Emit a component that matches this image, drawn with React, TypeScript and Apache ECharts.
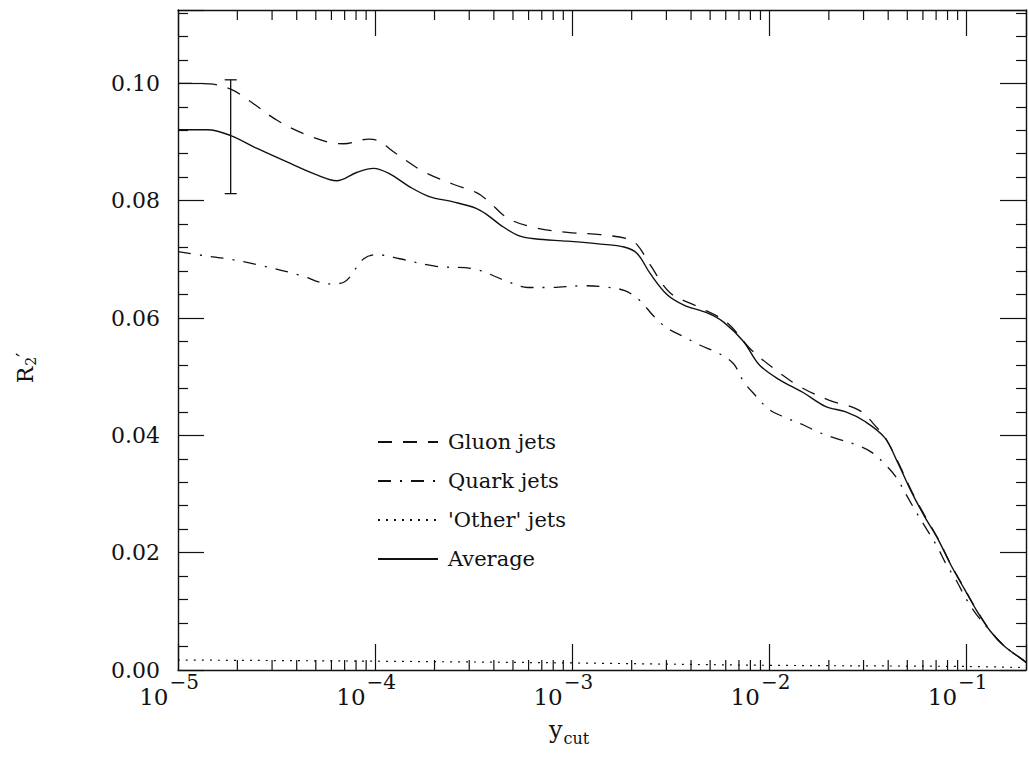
import React, { useEffect, useRef } from "react";
import * as echarts from "echarts";

// ---- Data ----
const seriesNames = ["Gluon jets", "Quark jets", "'Other' jets", "Average"];

const gluonX = [1e-5, 1.44e-5, 1.85e-5, 2.33e-5, 3.18e-5, 4.51e-5, 6.17e-5, 6.93e-5, 9.27e-5, 1.02e-4, 1.28e-4, 1.75e-4, 2.49e-4, 3.25e-4, 3.73e-4, 4.71e-4, 6.44e-4, 9.45e-4, 1.39e-3, 1.9e-3, 2.13e-3, 2.48e-3, 3.13e-3, 4.28e-3, 6.05e-3, 7.91e-3, 1.04e-2, 1.41e-2, 2.0e-2, 2.84e-2, 3.58e-2, 3.84e-2, 4.48e-2, 5.24e-2, 6.11e-2, 7.13e-2, 8.32e-2, 9.7e-2, 0.113, 0.132, 0.155, 0.195, 0.2];
const gluonY = [0.1, 0.0999, 0.099, 0.0969, 0.0937, 0.0912, 0.0898, 0.0897, 0.0905, 0.0903, 0.088, 0.085, 0.0828, 0.0814, 0.08, 0.077, 0.0754, 0.0746, 0.0742, 0.0735, 0.0725, 0.0691, 0.0643, 0.062, 0.0593, 0.0549, 0.0515, 0.0484, 0.046, 0.0443, 0.041, 0.0398, 0.0355, 0.0306, 0.0264, 0.0225, 0.018, 0.014, 0.0101, 0.0067, 0.0041, 0.0016, 0.0013];

const quarkX = [1e-5, 1.38e-5, 1.85e-5, 2.67e-5, 4.16e-5, 5.89e-5, 6.93e-5, 8.75e-5, 1.02e-4, 1.33e-4, 2.04e-4, 3.13e-4, 4.71e-4, 5.94e-4, 7.48e-4, 1.15e-3, 1.45e-3, 1.83e-3, 2.18e-3, 2.59e-3, 3.02e-3, 3.68e-3, 4.42e-3, 5.58e-3, 6.57e-3, 7.38e-3, 8.38e-3, 9.97e-3, 1.19e-2, 1.48e-2, 1.78e-2, 2.17e-2, 2.74e-2, 3.3e-2, 3.92e-2, 4.4e-2, 5.01e-2, 5.62e-2, 6.32e-2, 7.1e-2, 7.85e-2, 8.85e-2, 9.91e-2, 0.112, 0.132, 0.155, 0.195, 0.2];
const quarkY = [0.0713, 0.0706, 0.07, 0.0689, 0.0673, 0.0658, 0.0661, 0.0701, 0.0708, 0.0701, 0.0688, 0.0684, 0.0662, 0.0652, 0.0652, 0.0655, 0.0653, 0.0647, 0.0631, 0.0603, 0.0583, 0.0568, 0.0554, 0.0539, 0.0522, 0.0492, 0.047, 0.0444, 0.0431, 0.0418, 0.0405, 0.0395, 0.0384, 0.0371, 0.0348, 0.0328, 0.0295, 0.0266, 0.0238, 0.021, 0.0181, 0.0153, 0.0122, 0.0095, 0.0066, 0.0041, 0.0016, 0.0013];

const otherX = [1e-5, 1e-4, 1e-3, 1e-2, 1e-1, 0.2];
const otherY = [0.0017, 0.0015, 0.0012, 0.0008, 0.0006, 0.0004];

const averageX = [1e-5, 1.41e-5, 1.85e-5, 2.52e-5, 3.57e-5, 5.06e-5, 6.38e-5, 8.05e-5, 9.81e-5, 1.18e-4, 1.49e-4, 1.88e-4, 2.49e-4, 3.25e-4, 3.73e-4, 4.34e-4, 5.29e-4, 6.44e-4, 9.45e-4, 1.39e-3, 1.83e-3, 2.13e-3, 2.48e-3, 3.02e-3, 3.68e-3, 4.8e-3, 5.85e-3, 7.38e-3, 8.89e-3, 1.12e-2, 1.48e-2, 1.93e-2, 2.44e-2, 3.04e-2, 3.84e-2, 4.48e-2, 5.24e-2, 6.11e-2, 7.13e-2, 8.32e-2, 9.7e-2, 0.113, 0.132, 0.155, 0.195, 0.2];
const averageY = [0.0921, 0.0921, 0.0911, 0.0889, 0.0866, 0.0844, 0.0834, 0.0848, 0.0855, 0.0846, 0.0824, 0.0807, 0.0798, 0.0787, 0.0775, 0.0758, 0.0741, 0.0735, 0.0731, 0.0726, 0.0721, 0.071, 0.0676, 0.064, 0.0622, 0.0609, 0.0593, 0.056, 0.052, 0.0495, 0.0473, 0.0449, 0.044, 0.0424, 0.0396, 0.0353, 0.0304, 0.0262, 0.0224, 0.0179, 0.0139, 0.01, 0.0066, 0.0041, 0.0016, 0.0013];

// error bar on the average: [x, low, high]
const errorBar = [[1.85e-5, 0.0812, 0.1006]];

// axis ranges and ticks
const X_MIN = 1e-5;
const X_MAX = 0.2;
const Y_MIN = 0;
const Y_MAX = 0.1125;
const Y_INTERVAL = 0.02;
const minorTickMultipliers = [2, 3, 4, 5, 6, 7, 8, 9];
const decades = [1e-5, 1e-4, 1e-3, 1e-2, 1e-1];

const FONT = "DejaVu Serif";
const INK = "#111";

const zip = (xs: number[], ys: number[]) => xs.map((x, i) => [x, ys[i]]);

export default function App() {
  const ref = useRef<HTMLDivElement>(null);

  useEffect(() => {
    if (!ref.current) return;
    const chart = echarts.init(ref.current, undefined, { renderer: "svg" });

    const minorTicks: number[][] = [];
    decades.forEach((d) => {
      minorTickMultipliers.forEach((m) => {
        const v = d * m;
        if (v < X_MAX * 0.999) minorTicks.push([v, Y_MIN]);
      });
    });

    const xLabelFormatter = (v: number) => {
      const e = Math.log10(v);
      const r = Math.round(e);
      if (Math.abs(e - r) > 1e-6) return "";
      return `{b|10}{s|\u2212${-r}}`;
    };
    const yLabelFormatter = (v: number) => {
      const k = v / Y_INTERVAL;
      if (Math.abs(k - Math.round(k)) > 1e-6) return "";
      return v.toFixed(2);
    };

    const tickLine = { color: INK, width: 1.2 };

    const baseX = {
      type: "log",
      logBase: 10,
      min: X_MIN,
      max: X_MAX,
      splitLine: { show: false },
      axisLine: { show: true, onZero: false, lineStyle: { color: INK, width: 1.4 } },
      axisTick: { show: true, inside: true, length: 26, lineStyle: tickLine },
      minorTick: { show: false },
    };
    const baseY = {
      type: "value",
      min: Y_MIN,
      max: Y_MAX,
      interval: Y_INTERVAL,
      splitLine: { show: false },
      axisLine: { show: true, onZero: false, lineStyle: { color: INK, width: 1.4 } },
      axisTick: { show: true, inside: true, length: 26, lineStyle: tickLine },
      minorTick: { show: true, splitNumber: 5, length: 10, lineStyle: tickLine },
    };

    const lineSeries = (name: string, data: number[][], type: any, width = 1.3) => ({
      type: "line",
      name,
      data,
      xAxisIndex: 0,
      yAxisIndex: 0,
      smooth: 0.35,
      symbol: "circle",
      symbolSize: 0,
      showSymbol: false,
      lineStyle: { color: INK, width, type },
      itemStyle: { color: INK },
      z: 3,
    });

    chart.setOption({
      animation: false,
      backgroundColor: "#fff",
      textStyle: { fontFamily: FONT, color: INK },
      grid: { left: 178, top: 10, right: -2, bottom: 90, containLabel: false },
      legend: {
        data: seriesNames,
        orient: "vertical",
        left: 372,
        top: 424,
        itemWidth: 60,
        itemHeight: 14,
        itemGap: 13,
        itemStyle: { opacity: 0 },
        textStyle: { fontFamily: FONT, fontSize: 21, color: INK, lineHeight: 26, padding: [0, 0, 0, 5] },
        selectedMode: false,
      },
      xAxis: [
        {
          ...baseX,
          position: "bottom",
          axisLabel: {
            show: true,
            formatter: xLabelFormatter,
            margin: 2,
            padding: [0, 18, 0, 0],
            rich: {
              b: { fontFamily: FONT, fontSize: 23, color: INK, verticalAlign: "bottom", padding: [13, 1, 0, 0] },
              s: { fontFamily: FONT, fontSize: 20, color: INK, verticalAlign: "top" },
            },
          },
          name: "{y|y}{c|cut}",
          nameLocation: "middle",
          nameGap: 48,
          nameTextStyle: {
            padding: [0, 66, 0, 0],
            rich: {
              y: { fontFamily: FONT, fontSize: 24, color: INK, verticalAlign: "top" },
              c: { fontFamily: FONT, fontSize: 16, color: INK, verticalAlign: "bottom", padding: [12, 0, 0, 1] },
            },
          },
        },
        {
          ...baseX,
          position: "top",
          axisLabel: { show: false },
        },
      ],
      yAxis: [
        {
          ...baseY,
          position: "left",
          axisLabel: { show: true, formatter: yLabelFormatter, margin: 18, fontFamily: FONT, fontSize: 22, color: INK },
          name: "{r|R}{s|2}{p|\u2032}",
          nameLocation: "middle",
          nameRotate: 90,
          nameGap: 140,
          nameTextStyle: {
            padding: [0, 56, 0, 0],
            rich: {
              r: { fontFamily: FONT, fontSize: 22, color: INK, verticalAlign: "top" },
              s: { fontFamily: FONT, fontSize: 14, color: INK, verticalAlign: "bottom", padding: [10, 0, 0, 1] },
              p: { fontFamily: FONT, fontSize: 18, color: INK, verticalAlign: "top" },
            },
          },
        },
        {
          ...baseY,
          position: "right",
          axisLabel: { show: false },
        },
      ],
      series: [
        lineSeries(seriesNames[0], zip(gluonX, gluonY), [14, 11]),
        lineSeries(seriesNames[1], zip(quarkX, quarkY), [13, 9, 2, 9]),
        lineSeries(seriesNames[2], zip(otherX, otherY), [2, 6], 1.2),
        lineSeries(seriesNames[3], zip(averageX, averageY), "solid", 1.4),
        {
          type: "custom",
          name: "errorbar",
          xAxisIndex: 0,
          yAxisIndex: 0,
          data: errorBar,
          encode: { x: 0, y: [1, 2] },
          silent: true,
          z: 4,
          renderItem: (params: any, api: any) => {
            const lo = api.coord([api.value(0), api.value(1)]);
            const hi = api.coord([api.value(0), api.value(2)]);
            const st = { stroke: INK, lineWidth: 1.3 };
            return {
              type: "group",
              children: [
                { type: "line", shape: { x1: lo[0], y1: lo[1], x2: hi[0], y2: hi[1] }, style: st },
                { type: "line", shape: { x1: lo[0] - 6, y1: lo[1], x2: lo[0] + 6, y2: lo[1] }, style: st },
                { type: "line", shape: { x1: hi[0] - 6, y1: hi[1], x2: hi[0] + 6, y2: hi[1] }, style: st },
              ],
            };
          },
        },
        {
          type: "custom",
          name: "minorTicks",
          xAxisIndex: 1,
          yAxisIndex: 1,
          data: minorTicks,
          encode: { x: 0, y: 1 },
          silent: true,
          clip: false,
          z: 4,
          renderItem: (params: any, api: any) => {
            const p = api.coord([api.value(0), Y_MIN]);
            const cs = params.coordSys;
            const bottom = cs.y + cs.height;
            const st = { stroke: INK, lineWidth: 1.2 };
            return {
              type: "group",
              children: [
                { type: "line", shape: { x1: p[0], y1: bottom, x2: p[0], y2: bottom - 10 }, style: st },
                { type: "line", shape: { x1: p[0], y1: cs.y, x2: p[0], y2: cs.y + 10 }, style: st },
              ],
            };
          },
        },
      ],
    });

    return () => {
      chart.dispose();
    };
  }, []);

  return (
    <div
      ref={ref}
      style={{ position: "absolute", left: 0, top: 0, width: 1029, height: 760, background: "#fff" }}
    />
  );
}
